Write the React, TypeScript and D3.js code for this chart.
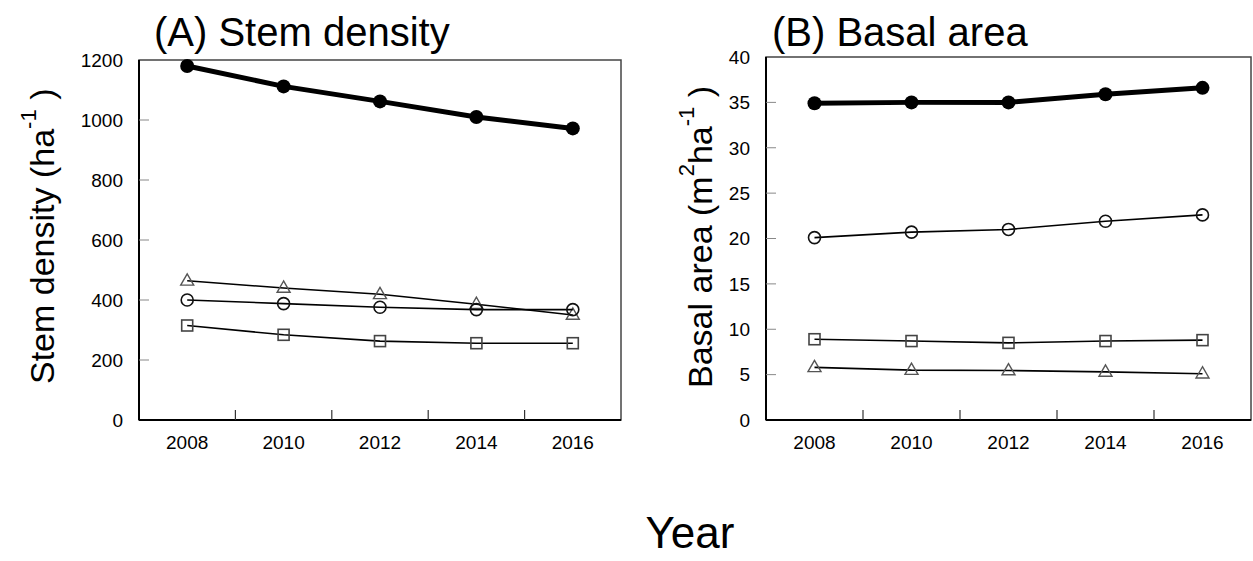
import React from 'react';
import * as d3 from 'd3';

// years sampled
const years = [2008, 2010, 2012, 2014, 2016];
const tickYears = [2009, 2011, 2013, 2015];

// (A) stem density, per ha
const densityFilled = [1180, 1112, 1062, 1010, 972];
const densityTriangle = [464, 440, 419, 386, 350];
const densityCircle = [400, 388, 376, 368, 368];
const densitySquare = [315, 284, 263, 256, 256];
const densityTicks = [0, 200, 400, 600, 800, 1000, 1200];

// (B) basal area, m2 per ha
const basalFilled = [34.9, 35.0, 35.0, 35.9, 36.6];
const basalCircle = [20.1, 20.7, 21.0, 21.9, 22.6];
const basalSquare = [8.9, 8.7, 8.5, 8.7, 8.8];
const basalTriangle = [5.8, 5.5, 5.45, 5.3, 5.1];
const basalTicks = [0, 5, 10, 15, 20, 25, 30, 35, 40];

const FONT = "'Liberation Sans', Arial, Helvetica, sans-serif";

type Series = { values: number[]; marker: 'filled' | 'circle' | 'square' | 'triangle' };

function Marker({ kind, x, y }: { kind: string; x: number; y: number }) {
  if (kind === 'filled') return <circle cx={x} cy={y} r={7} fill="#000" />;
  if (kind === 'circle')
    return <circle cx={x} cy={y} r={6} fill="none" stroke="#111" strokeWidth={1.6} />;
  if (kind === 'square')
    return <rect x={x - 5.5} y={y - 5.5} width={11} height={11} fill="none" stroke="#444" strokeWidth={1.6} />;
  const s = 13, h = s * Math.sqrt(3) / 2;
  const pts = [[x, y - h * 0.62], [x - s / 2, y + h * 0.38], [x + s / 2, y + h * 0.38]];
  return <polygon points={pts.map(p => p.join(',')).join(' ')} fill="none" stroke="#555" strokeWidth={1.4} />;
}

function Panel({ left, right, top, bottom, max, ticks, series }: {
  left: number; right: number; top: number; bottom: number; max: number; ticks: number[]; series: Series[];
}) {
  const x = d3.scaleLinear().domain([2007, 2017]).range([left, right]);
  const y = d3.scaleLinear().domain([0, max]).range([bottom, top]);
  return (
    <g>
      <rect x={left} y={top} width={right - left} height={bottom - top} fill="none" stroke="#444" strokeWidth={1.5} />
      <line x1={left} x2={left} y1={top} y2={bottom} stroke="#000" strokeWidth={2} />
      <line x1={left} x2={right} y1={bottom} y2={bottom} stroke="#000" strokeWidth={2} />
      {ticks.map(t => (
        <g key={t}>
          {t > 0 && t < max && <line x1={left} x2={left + 10} y1={y(t)} y2={y(t)} stroke="#888" strokeWidth={1} />}
          <text x={left - 16} y={y(t)} dy="0.36em" textAnchor="end" fontSize={19} fontFamily={FONT} fill="#000">{t}</text>
        </g>
      ))}
      {tickYears.map(t => (
        <line key={t} x1={x(t)} x2={x(t)} y1={bottom} y2={bottom - 10} stroke="#333" strokeWidth={1.2} />
      ))}
      {years.map(t => (
        <text key={t} x={x(t)} y={bottom + 29} textAnchor="middle" fontSize={19} fontFamily={FONT} fill="#000">{t}</text>
      ))}
      {series.map((s, i) => {
        const line = d3.line<number>().x((_, j) => x(years[j])).y(v => y(v));
        return (
          <g key={i}>
            <path d={line(s.values) || ''} fill="none" stroke="#000"
              strokeWidth={s.marker === 'filled' ? 5 : 1.6} />
            {s.values.map((v, j) => <Marker key={j} kind={s.marker} x={x(years[j])} y={y(v)} />)}
          </g>
        );
      })}
    </g>
  );
}

export default function App() {
  return (
    <svg width={1253} height={561} style={{ position: 'absolute', left: 0, top: 0, background: '#fff' }}>
      <Panel left={139} right={621} top={60} bottom={420} max={1200} ticks={densityTicks}
        series={[
          { values: densityTriangle, marker: 'triangle' },
          { values: densityCircle, marker: 'circle' },
          { values: densitySquare, marker: 'square' },
          { values: densityFilled, marker: 'filled' },
        ]} />
      <Panel left={766} right={1251} top={57} bottom={420} max={40} ticks={basalTicks}
        series={[
          { values: basalTriangle, marker: 'triangle' },
          { values: basalCircle, marker: 'circle' },
          { values: basalSquare, marker: 'square' },
          { values: basalFilled, marker: 'filled' },
        ]} />

      <text x={154} y={46} fontSize={40} fontFamily={FONT} fill="#000">(A) Stem density</text>
      <text x={772} y={46} fontSize={40} fontFamily={FONT} fill="#000">(B) Basal area</text>

      <text transform="translate(54,384) rotate(-90)" fontSize={34} fontFamily={FONT} fill="#000">
        Stem density (ha<tspan fontSize={22} dy={-18}>-1</tspan><tspan dy={18}> )</tspan>
      </text>
      <text transform="translate(712,388) rotate(-90)" fontSize={34} fontFamily={FONT} fill="#000">
        Basal area (m<tspan fontSize={22} dy={-18}>2</tspan><tspan dy={18}>ha</tspan>
        <tspan fontSize={22} dy={-18}>-1</tspan><tspan dy={18}> )</tspan>
      </text>

      <text x={690} y={548} textAnchor="middle" fontSize={44} fontFamily={FONT} fill="#000">Year</text>
    </svg>
  );
}
